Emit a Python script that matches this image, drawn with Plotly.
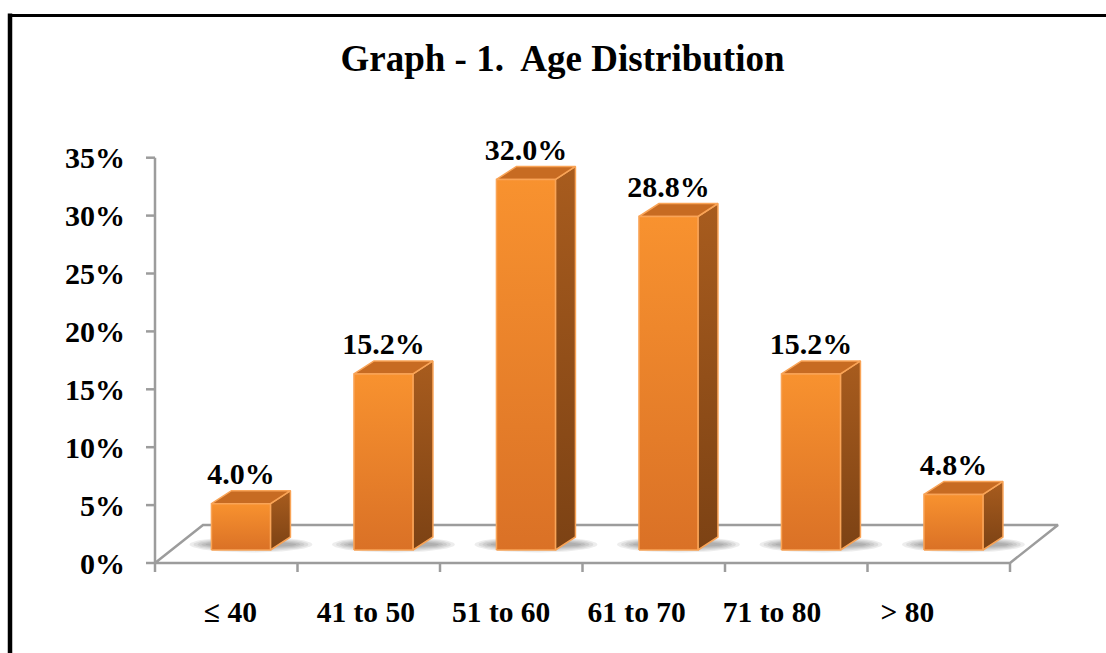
import math
import plotly.graph_objects as go

# ---- data -------------------------------------------------------------
categories = ["≤ 40", "41 to 50", "51 to 60", "61 to 70", "71 to 80", "> 80"]
percent = [4.0, 15.2, 32.0, 28.8, 15.2, 4.8]
y_ticks = [0, 5, 10, 15, 20, 25, 30, 35]

# ---- page / plot-area geometry (pixels) --------------------------------
W, H = 1106, 653
PLOT_L, PLOT_R, PLOT_T, PLOT_B = 138, 1068, 140, 582
X0_PX = 155        # left edge of the first category on the front plane
CAT_PX = 142.5     # width of one category
Y0_PX = 563        # 0 % on the front plane
PCT_PX = 11.58     # pixels per percentage point


def px_to_x(p):
    return (p - X0_PX) / CAT_PX - 0.5


def px_to_y(p):
    return (Y0_PX - p) / PCT_PX


def dx(px):
    return px / CAT_PX


def dy(px):
    return px / PCT_PX


# oblique 3-D offsets
FLOOR_DX, FLOOR_DY = dx(48), dy(38)        # depth of the floor
BAR_OFF_X, BAR_OFF_Y = dx(14.7), dy(13)    # bar front face set back from floor front
BAR_DX, BAR_DY = dx(20), dy(13)            # depth of each bar
BAR_HALF = dx(59) / 2                      # half width of a bar front face
TICK_X = dx(9)
TICK_Y = dy(9)
LABEL_GAP = dy(14)

# label axis: centres of category captions
LBL0_PX, LBL_STEP_PX = 230.4, 135.4

AXIS_GRAY = "#9C9C9C"
EDGE = "#F9A457"
FONT = "Liberation Serif"

n = len(categories)
x_lo, x_hi = -0.5, n - 0.5
y_top = y_ticks[-1]

fig = go.Figure()

# soft shadows on the floor under each bar (stacked translucent ellipses)
for i, v in enumerate(percent):
    cx = i + BAR_OFF_X + BAR_DX / 2
    cy = BAR_OFF_Y + BAR_DY / 2 - dy(1)
    for k in range(5):
        hw = BAR_HALF + BAR_DX / 2 + dx(22 - 4 * k)
        hh = dy(8 - 1.2 * k)
        xs = [cx + hw * math.cos(t * math.pi / 36) for t in range(73)]
        ys = [cy + hh * math.sin(t * math.pi / 36) for t in range(73)]
        fig.add_trace(go.Scatter(
            x=xs, y=ys, mode="lines", fill="toself", line=dict(width=0),
            fillcolor="rgba(0,0,0,0.07)", hoverinfo="skip", showlegend=False))

# floor (parallelogram) and vertical axis line
fig.add_trace(go.Scatter(
    x=[x_lo, x_lo + FLOOR_DX, x_hi + FLOOR_DX, x_hi, x_lo],
    y=[0, FLOOR_DY, FLOOR_DY, 0, 0],
    mode="lines", line=dict(color=AXIS_GRAY, width=2.5),
    hoverinfo="skip", showlegend=False))
fig.add_trace(go.Scatter(
    x=[x_lo, x_lo], y=[0, y_top], mode="lines",
    line=dict(color=AXIS_GRAY, width=2.5), hoverinfo="skip", showlegend=False))

# tick marks
tx, ty = [], []
for t in y_ticks:
    tx += [x_lo - TICK_X, x_lo, None]
    ty += [t, t, None]
for b in range(n + 1):
    tx += [x_lo + b, x_lo + b, None]
    ty += [0, -TICK_Y, None]
fig.add_trace(go.Scatter(x=tx, y=ty, mode="lines",
                         line=dict(color=AXIS_GRAY, width=2.5),
                         hoverinfo="skip", showlegend=False))

# 3-D columns
for i, v in enumerate(percent):
    x0 = i + BAR_OFF_X - BAR_HALF
    x1 = i + BAR_OFF_X + BAR_HALF
    yb = BAR_OFF_Y
    yt = BAR_OFF_Y + v
    # right side
    fig.add_trace(go.Scatter(
        x=[x1, x1 + BAR_DX, x1 + BAR_DX, x1, x1],
        y=[yb, yb + BAR_DY, yt + BAR_DY, yt, yb],
        mode="lines", fill="toself", line=dict(color=EDGE, width=1.5),
        fillgradient=dict(type="vertical", colorscale=[[0, "#7C4214"], [1, "#A85C1E"]]),
        hoverinfo="skip", showlegend=False))
    # top
    fig.add_trace(go.Scatter(
        x=[x0, x1, x1 + BAR_DX, x0 + BAR_DX, x0],
        y=[yt, yt, yt + BAR_DY, yt + BAR_DY, yt],
        mode="lines", fill="toself", line=dict(color=EDGE, width=1.5),
        fillcolor="#C76B22", hoverinfo="skip", showlegend=False))
    # front
    fig.add_trace(go.Scatter(
        x=[x0, x1, x1, x0, x0],
        y=[yb, yb, yt, yt, yb],
        mode="lines", fill="toself", line=dict(color=EDGE, width=1.5),
        fillgradient=dict(type="vertical", colorscale=[[0, "#DA7126"], [1, "#F8922F"]]),
        hoverinfo="skip", showlegend=False))

# value labels
fig.add_trace(go.Scatter(
    x=[i + BAR_OFF_X for i in range(n)],
    y=[v + BAR_OFF_Y + BAR_DY + LABEL_GAP for v in percent],
    mode="text", text=[f"{v:.1f}%" for v in percent],
    textposition="middle center",
    textfont=dict(family=FONT, size=30, color="black", weight="bold"),
    cliponaxis=False, hoverinfo="skip", showlegend=False))

# invisible trace carrying the caption axis
fig.add_trace(go.Scatter(x=list(range(n)), y=[None] * n, xaxis="x2",
                         mode="markers", hoverinfo="skip", showlegend=False))

pw = PLOT_R - PLOT_L
ph = PLOT_B - PLOT_T


def xpaper(p):
    return (p - PLOT_L) / pw


def ypaper(p):
    return (PLOT_B - p) / ph


fig.update_layout(
    width=W, height=H,
    margin=dict(l=PLOT_L, r=W - PLOT_R, t=PLOT_T, b=H - PLOT_B),
    paper_bgcolor="white", plot_bgcolor="white",
    title=dict(text="Graph - 1.\u00a0 Age Distribution",
               x=562.5 / W, xref="container", xanchor="center",
               y=1 - 58 / H, yref="container", yanchor="middle",
               font=dict(family=FONT, size=37, color="black", weight="bold")),
    xaxis=dict(range=[px_to_x(PLOT_L), px_to_x(PLOT_R)], showgrid=False,
               zeroline=False, showline=False, showticklabels=False, ticks=""),
    xaxis2=dict(range=[(PLOT_L - LBL0_PX) / LBL_STEP_PX, (PLOT_R - LBL0_PX) / LBL_STEP_PX],
                overlaying="x", anchor="y", side="bottom",
                tickmode="array", tickvals=list(range(n)), ticktext=categories,
                showgrid=False, zeroline=False, showline=False, ticks="",
                ticklabelstandoff=9,
                tickfont=dict(family=FONT, size=29.5, color="black", weight="bold")),
    yaxis=dict(range=[px_to_y(PLOT_B), px_to_y(PLOT_T)], showgrid=False,
               zeroline=False, showline=False, ticks="",
               tickmode="array", tickvals=y_ticks, ticktext=[f"{t}%" for t in y_ticks],
               ticklabelstandoff=12,
               tickfont=dict(family=FONT, size=30, color="black", weight="bold")),
    shapes=[
        dict(type="line", xref="paper", yref="paper",
             x0=xpaper(10), x1=xpaper(10), y0=ypaper(13.5), y1=ypaper(H + 20),
             line=dict(color="black", width=4.5)),
        dict(type="line", xref="paper", yref="paper",
             x0=xpaper(8), x1=xpaper(W + 20), y0=ypaper(15.5), y1=ypaper(15.5),
             line=dict(color="black", width=3)),
    ],
)

fig.write_html("out.html")
